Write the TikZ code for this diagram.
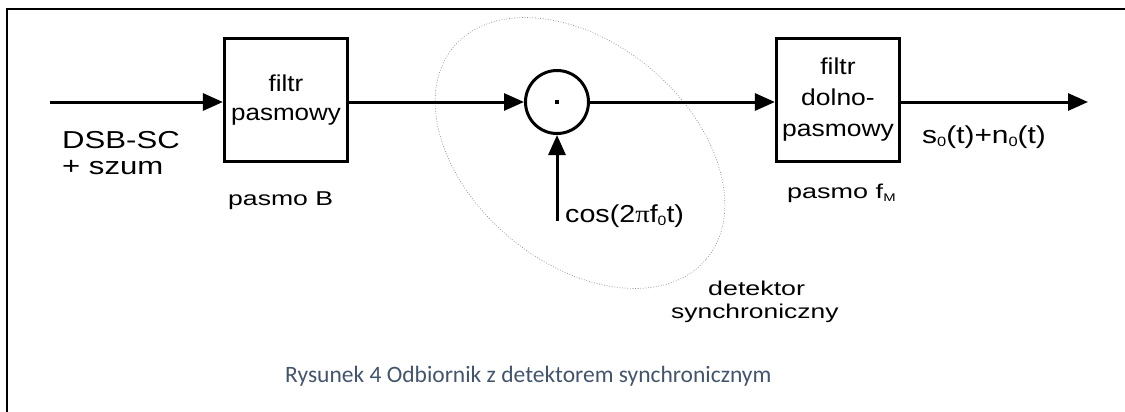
\documentclass[tikz,border=0pt]{standalone}
\usepackage{fontspec}
\usetikzlibrary{arrows.meta}
\setmainfont{Liberation Sans}
\newfontfamily\pifont{Liberation Serif}
\newfontfamily\figcapfont{Carlito}
\definecolor{capblue}{HTML}{44546A}
% small lowered index (s_0, f_M)
\newcommand\sbs[1]{\raisebox{-0.3ex}{\scalebox{0.55}{#1}}}
% horizontally widened lettering
\newcommand\wide[2]{\scalebox{#1}[1]{#2}}
\begin{document}
\begin{tikzpicture}[x=1pt,y=-1pt,
  frame/.style={line width=2.5pt},
  blk/.style={draw,line width=3.2pt,minimum width=123pt,minimum height=123pt,
    inner sep=0pt,align=center,font=\fontsize{23pt}{29pt}\selectfont},
  mix/.style={draw,circle,line width=3pt,minimum size=63pt,inner sep=0pt},
  arr/.style={line width=3pt,-{Triangle[length=20pt,width=17pt]}},
  lbl/.style={inner sep=0pt,anchor=base west,font=\fontsize{24.5pt}{26pt}\selectfont},
  sml/.style={inner sep=0pt,anchor=base west,font=\fontsize{20pt}{22pt}\selectfont},
  ring/.style={draw=black!45,line width=0.7pt,dash pattern=on 0.8pt off 1.8pt},
]
\useasboundingbox (0,0) rectangle (1125,412);

% frame (left and top edges)
\draw[frame] (7,413) -- (7,9) -- (1126,9);

% detector outline
\draw[ring,rotate around={-40:(580,153)}] (580,153) ellipse [x radius=165pt,y radius=110pt];

% blocks
\coordinate (in) at (50,102);
\node[blk] (b1) at (286,100) {\wide{1.13}{filtr}\\\wide{1.13}{pasmowy}};
\node[mix] (m) at (557,102) {};
\fill (m.center) ++(-1.7,-1.7) rectangle ++(3.4,3.4);
\node[blk,font=\fontsize{23pt}{31pt}\selectfont] (b2) at (838,100)
  {\wide{1.15}{filtr}\\\wide{1.15}{dolno-}\\\wide{1.15}{pasmowy}};
\coordinate (out) at (1088,102);
\coordinate (lo) at (557,221);

% connectors
\draw[arr] (in) -- (in -| b1.west);
\draw[arr] (b1.east |- in) -- (m.west);
\draw[arr] (m.east) -- (m.east -| b2.west);
\draw[arr] (b2.east |- m) -- (out);
\draw[arr] (lo) -- (m.south);

% labels
\node[lbl] (t1) at (62,148) {\wide{1.27}{DSB-SC}};
\node[lbl] (t2) at (62,174) {\wide{1.27}{+ szum}};
\node[sml] (t3) at (228,205) {\wide{1.33}{pasmo B}};
\node[lbl] (t4) at (565,222) {\wide{1.17}{cos(2{\pifont π}f\sbs{0}t)}};
\node[lbl] (t5) at (922,143) {\wide{1.22}{s\sbs{0}(t)+n\sbs{0}(t)}};
\node[sml] (t6) at (787,198) {\wide{1.35}{pasmo f\sbs{M}}};
\node[sml] (t7) at (708,295) {\wide{1.34}{detektor}};
\node[sml] (t8) at (671,318) {\wide{1.32}{synchroniczny}};

% caption
\node[inner sep=0pt,anchor=base west,text=capblue,
  font=\figcapfont\fontsize{23.5pt}{26pt}\selectfont] (cap) at (285,382)
  {Rysunek 4 Odbiornik z detektorem synchronicznym};
\end{tikzpicture}
\end{document}
